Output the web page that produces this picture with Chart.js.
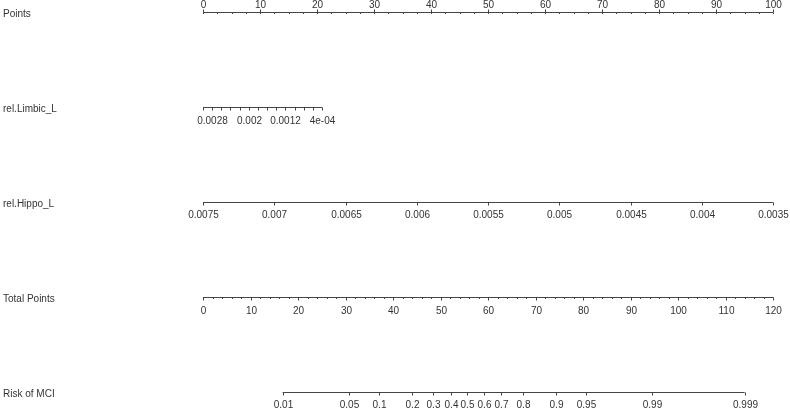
<!DOCTYPE html>
<html>
<head>
<meta charset="utf-8">
<script src="https://cdn.jsdelivr.net/npm/chart.js@4"></script>
<style>
body { margin: 0; background: #fff; }
#wrap { width: 790px; height: 408px; }
</style>
</head>
<body>
<div id="wrap"><canvas id="myChart"></canvas></div>
<script>
// nomogram rows, top to bottom
var rowNames = ["Points", "rel.Limbic_L", "rel.Hippo_L", "Total Points", "Risk of MCI"];

// Points
var pointsTicks = [0, 10, 20, 30, 40, 50, 60, 70, 80, 90, 100];
var pointsMinorStep = 2.5;

// rel.Limbic_L  (value range -> points range)
var limbicRange = [0.003, 0.0004];
var limbicPoints = [0, 20.9];
var limbicTicks = [0.003, 0.0028, 0.0026, 0.0024, 0.0022, 0.002, 0.0018, 0.0016, 0.0014, 0.0012, 0.001, 0.0008, 0.0006, 0.0004];
var limbicLabels = ["", "0.0028", "", "", "", "0.002", "", "", "", "0.0012", "", "", "", "4e-04"];

// rel.Hippo_L
var hippoRange = [0.0075, 0.0035];
var hippoPoints = [0, 100];
var hippoTicks = [0.0075, 0.007, 0.0065, 0.006, 0.0055, 0.005, 0.0045, 0.004, 0.0035];
var hippoLabels = ["0.0075", "0.007", "0.0065", "0.006", "0.0055", "0.005", "0.0045", "0.004", "0.0035"];

// Total Points
var totalRange = [0, 120];
var totalTicks = [0, 10, 20, 30, 40, 50, 60, 70, 80, 90, 100, 110, 120];
var totalMinorStep = 2;

// Risk of MCI: logit(risk) = riskIntercept + riskSlope * total points
var riskIntercept = -6.579;
var riskSlope = 0.11826;
var riskTicks = [0.01, 0.05, 0.1, 0.2, 0.3, 0.4, 0.5, 0.6, 0.7, 0.8, 0.9, 0.95, 0.99, 0.999];
var riskLabels = ["0.01", "0.05", "0.1", "0.2", "0.3", "0.4", "0.5", "0.6", "0.7", "0.8", "0.9", "0.95", "0.99", "0.999"];

function linMap(v, from, to) {
    return to[0] + (v - from[0]) / (from[1] - from[0]) * (to[1] - to[0]);
}
function riskToTotal(p) {
    return (Math.log(p / (1 - p)) - riskIntercept) / riskSlope;
}
function steps(a, b, s) {
    var out = [];
    for (var v = a; v <= b + 1e-9; v += s) out.push(v);
    return out;
}

// how each row is placed on the hidden x scales
var rows = [
    { axis: "x", conv: function(v) { return v; }, ticks: pointsTicks, labels: pointsTicks.map(String),
      minor: steps(0, 100, pointsMinorStep), up: true, labelOff: -7 },
    { axis: "x", conv: function(v) { return linMap(v, limbicRange, limbicPoints); }, ticks: limbicTicks, labels: limbicLabels,
      minor: [], up: false, labelOff: 14 },
    { axis: "x", conv: function(v) { return linMap(v, hippoRange, hippoPoints); }, ticks: hippoTicks, labels: hippoLabels,
      minor: [], up: false, labelOff: 13 },
    { axis: "x2", conv: function(v) { return v; }, ticks: totalTicks, labels: totalTicks.map(String),
      minor: steps(totalRange[0], totalRange[1], totalMinorStep), up: false, labelOff: 13.5 },
    { axis: "x2", conv: riskToTotal, ticks: riskTicks, labels: riskLabels,
      minor: [], up: false, labelOff: 12.5 }
];

// one line dataset per axis, from first to last tick
var datasets = rows.map(function(r, i) {
    var first = r.conv(r.ticks[0]);
    var last = r.conv(r.ticks[r.ticks.length - 1]);
    return {
        data: [{ x: first, y: rowNames[i] }, { x: last, y: rowNames[i] }],
        xAxisID: r.axis,
        borderColor: "#444",
        borderWidth: 1,
        pointRadius: 0,
        fill: false
    };
});

var tickPlugin = {
    id: "nomoTicks",
    afterDatasetsDraw: function(chart) {
        var c = chart.ctx;
        var ys = chart.scales.y;
        c.save();
        c.strokeStyle = "#444";
        c.lineWidth = 1;
        c.fillStyle = "#333";
        c.font = "10px 'Liberation Sans', Arial, sans-serif";
        c.textAlign = "center";
        c.textBaseline = "middle";
        rows.forEach(function(r, i) {
            var xs = chart.scales[r.axis];
            var y = ys.getPixelForValue(i);
            var dir = r.up ? -1 : 1;
            r.minor.forEach(function(v) {
                var px = Math.round(xs.getPixelForValue(r.conv(v))) + 0.5;
                c.beginPath();
                c.moveTo(px, y);
                c.lineTo(px, y + 1.5);
                c.stroke();
            });
            r.ticks.forEach(function(v, k) {
                var px = Math.round(xs.getPixelForValue(r.conv(v))) + 0.5;
                c.beginPath();
                c.moveTo(px, y);
                c.lineTo(px, y + dir * 3);
                c.stroke();
                if (r.labels[k]) c.fillText(r.labels[k], px, y + r.labelOff);
            });
        });
        c.restore();
    }
};

const ctx = document.getElementById("myChart").getContext("2d");
const myChart = new Chart(ctx, {
    type: "line",
    data: { labels: rowNames, datasets: datasets },
    options: {
        responsive: true,
        maintainAspectRatio: false,
        animation: false,
        layout: { padding: { left: 3, right: 17, top: 12.5, bottom: 15.5 } },
        plugins: { legend: { display: false }, tooltip: { enabled: false } },
        scales: {
            x: { type: "linear", min: 0, max: 100, display: false },
            x2: { type: "linear", min: totalRange[0], max: totalRange[1], display: false },
            y: {
                type: "category",
                labels: rowNames,
                position: "left",
                grid: { display: false },
                border: { display: false },
                ticks: {
                    crossAlign: "far",
                    labelOffset: 2,
                    color: "#333",
                    font: { family: "'Liberation Sans', Arial, sans-serif", size: 10 }
                },
                afterFit: function(scale) { scale.width = 200; }
            }
        }
    },
    plugins: [tickPlugin]
});
</script>
</body>
</html>
